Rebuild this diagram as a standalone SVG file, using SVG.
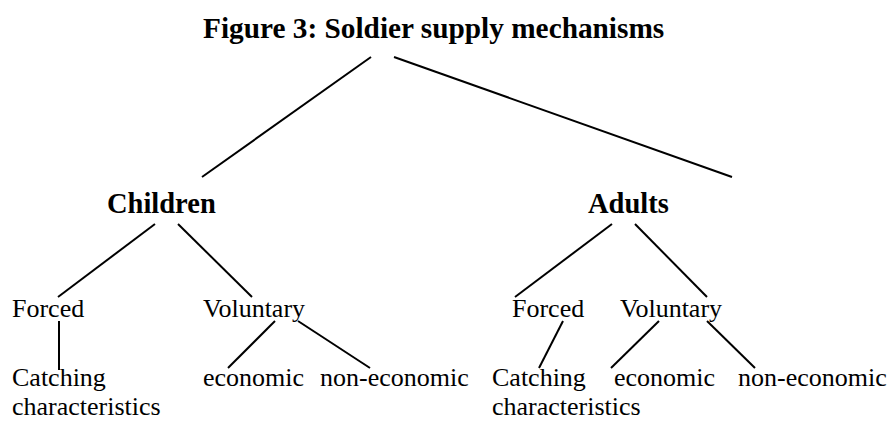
<svg xmlns="http://www.w3.org/2000/svg" width="891" height="421" viewBox="0 0 891 421">
<style>
text{font-family:"Liberation Serif","Times New Roman",serif;fill:#000}
.b{font-weight:bold;font-size:28.5px}
.t{font-weight:bold;font-size:29.3px}
.n{font-size:26px}
line{stroke:#000;stroke-width:2;stroke-linecap:butt}
</style>
<rect width="891" height="421" fill="#fff"/>
<g id="title"><text class="t" x="203" y="38">Figure 3: Soldier supply mechanisms</text></g>
<g id="children"><text class="b" x="107" y="213">Children</text></g>
<g id="adults"><text class="b" x="588" y="213">Adults</text></g>
<g id="c-forced"><text class="n" x="12" y="317">Forced</text></g>
<g id="c-voluntary"><text class="n" x="203" y="317">Voluntary</text></g>
<g id="c-catching"><text class="n" x="12" y="386">Catching</text><text class="n" x="12" y="415">characteristics</text></g>
<g id="c-economic"><text class="n" x="203" y="386">economic</text></g>
<g id="c-noneconomic"><text class="n" x="320" y="386">non-economic</text></g>
<g id="a-forced"><text class="n" x="512" y="317">Forced</text></g>
<g id="a-voluntary"><text class="n" x="620" y="317">Voluntary</text></g>
<g id="a-catching"><text class="n" x="492" y="386">Catching</text><text class="n" x="492" y="415">characteristics</text></g>
<g id="a-economic"><text class="n" x="614" y="386">economic</text></g>
<g id="a-noneconomic"><text class="n" x="738" y="386">non-economic</text></g>
<g id="connectors">
<line x1="371" y1="57" x2="202" y2="177"/>
<line x1="394" y1="57" x2="732" y2="177"/>
<line x1="155" y1="224" x2="58" y2="297"/>
<line x1="178" y1="224" x2="252" y2="297"/>
<line x1="59" y1="321" x2="59" y2="370"/>
<line x1="275" y1="321" x2="228" y2="368"/>
<line x1="298" y1="321" x2="370" y2="368"/>
<line x1="612" y1="224" x2="515" y2="297"/>
<line x1="635" y1="224" x2="707" y2="297"/>
<line x1="563" y1="321" x2="539" y2="368"/>
<line x1="659" y1="321" x2="611" y2="368"/>
<line x1="707" y1="321" x2="755" y2="368"/>
</g>
</svg>
